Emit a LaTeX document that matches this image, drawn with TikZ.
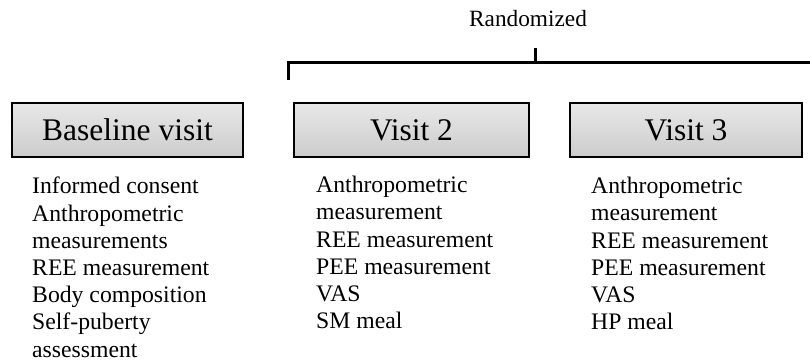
\documentclass[tikz,border=0pt]{standalone}
\usepackage{fontspec}
\setmainfont{Liberation Serif}
\begin{document}
\begin{tikzpicture}[x=1pt,y=-1pt,
  visitbox/.style={draw=black, line width=1.4pt, top color=gray!18, bottom color=gray!40,
    minimum height=54pt, inner sep=0pt, font=\fontsize{31.5}{36}\selectfont},
  listtext/.style={anchor=north west, align=left, inner sep=0pt,
    font=\fontsize{23.7}{27.2}\selectfont},
  bracket/.style={line width=3pt}]
\useasboundingbox (0,0) rectangle (810,363);
\node[visitbox, minimum width=231pt] (b) at (127.5,130) {Baseline visit};
\node[visitbox, minimum width=235pt] (v2) at (411.5,130) {Visit 2};
\node[visitbox, minimum width=232pt] (v3) at (686,130) {Visit 3};
\node[anchor=base, inner sep=0pt, font=\fontsize{23.3}{27}\selectfont] (r) at (528,27) {Randomized};
\coordinate (bl) at (288,80);
\coordinate (blt) at (288,63);
\coordinate (br) at (810,63);
\coordinate (bm) at (535,63);
\coordinate (bmt) at (535,48);
\draw[bracket] (bl) -- (blt) -- (br);
\draw[bracket] (bm) -- (bmt);
\node[listtext] (lb) at (32,177) {Informed consent\\Anthropometric\\measurements\\REE measurement\\Body composition\\Self-puberty\\assessment};
\node[listtext] (l2) at (316,176) {Anthropometric\\measurement\\REE measurement\\PEE measurement\\VAS\\SM meal};
\node[listtext] (l3) at (591,177) {Anthropometric\\measurement\\REE measurement\\PEE measurement\\VAS\\HP meal};
\end{tikzpicture}
\end{document}
